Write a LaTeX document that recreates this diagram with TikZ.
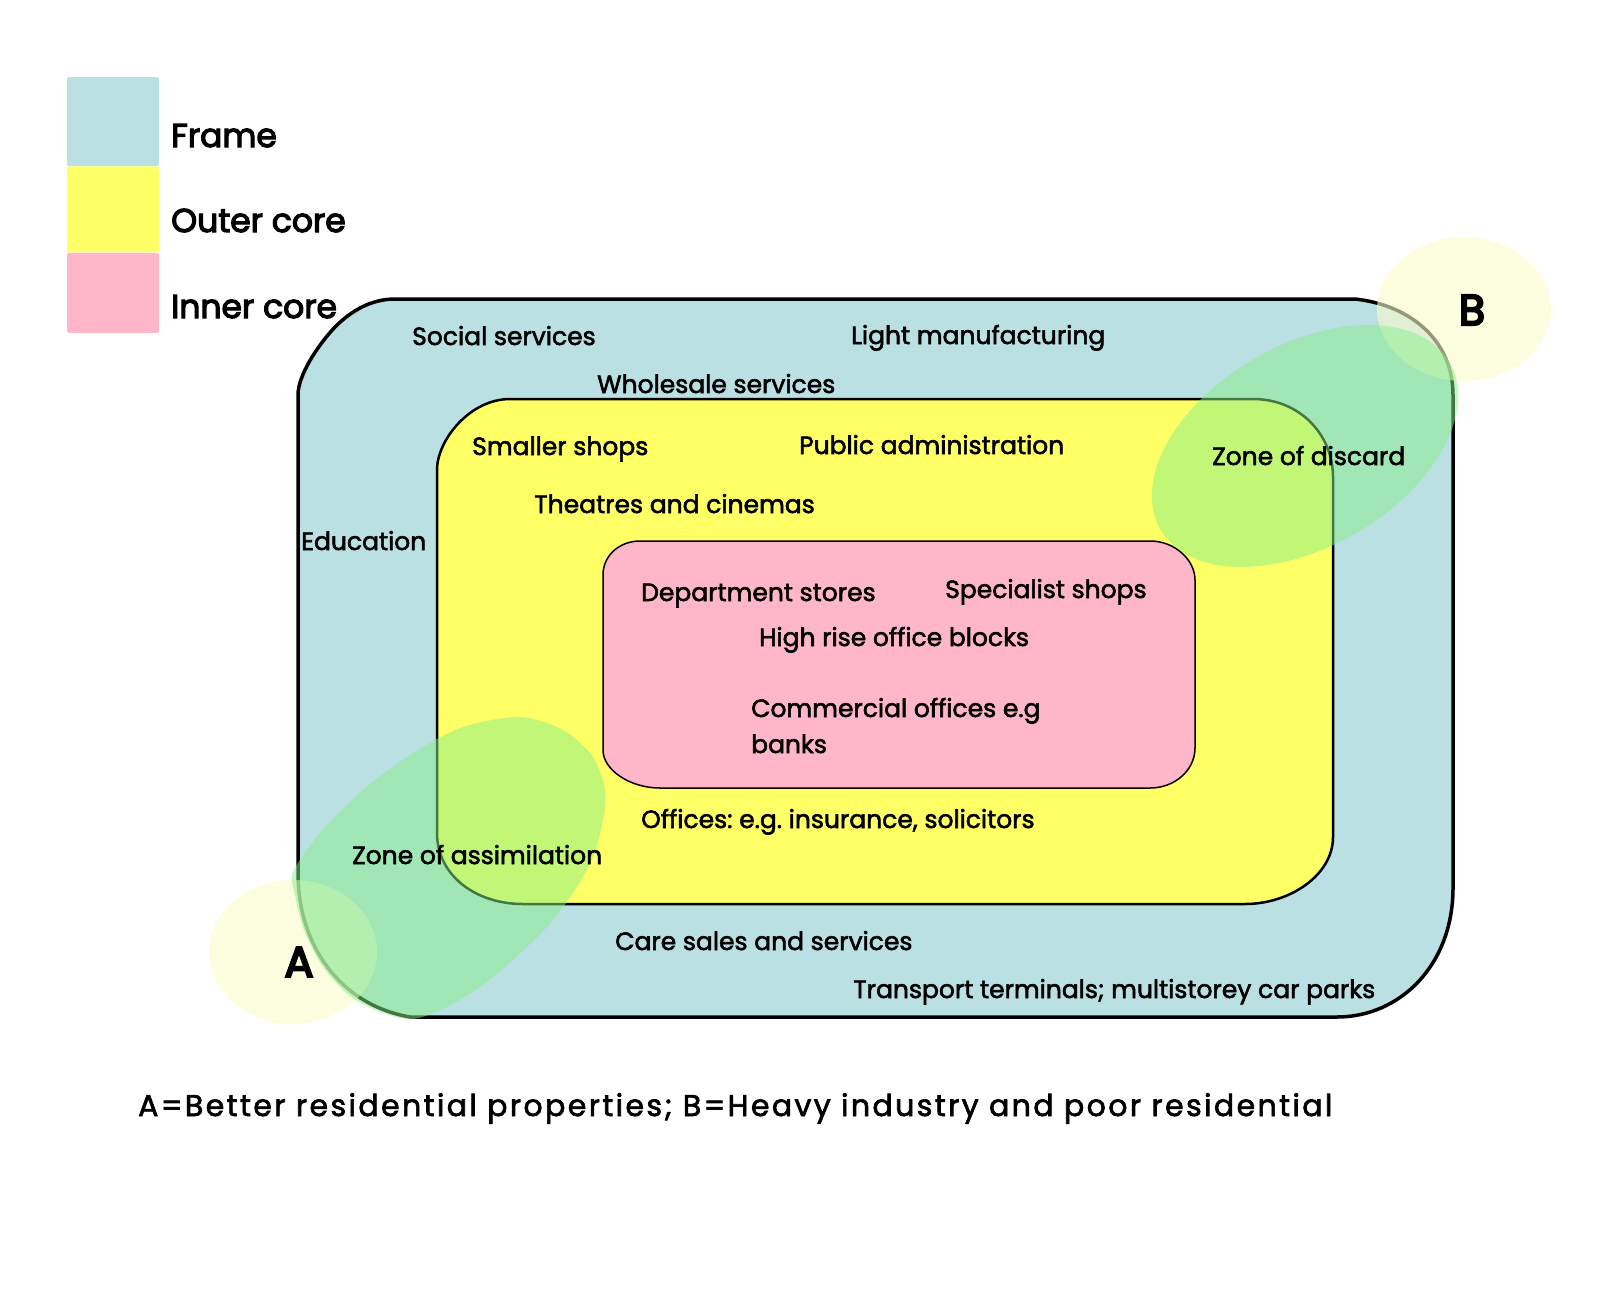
\documentclass[tikz,border=0pt]{standalone}
\usepackage{fontspec}
\setmainfont{Poppins}[FakeBold=2.2]
\newfontfamily\keyfont{Poppins}[FakeBold=3.5]
\newfontfamily\letterfont{Poppins}[FakeBold=5]
\usepackage{tikz}
\usetikzlibrary{positioning}

\definecolor{FrameBlue}{RGB}{186,224,227}
\definecolor{OuterYellow}{RGB}{255,255,102}
\definecolor{InnerPink}{RGB}{254,182,200}
\definecolor{ZoneGreen}{RGB}{135,239,137}
\definecolor{SpotYellow}{RGB}{252,252,203}

\begin{document}
\frenchspacing
\begin{tikzpicture}[x=1pt, y=-1pt,
	TextStyle/.style = {anchor=base west, inner sep=0pt, font=\fontsize{25}{30}\selectfont},
	KeyStyle/.style = {anchor=base west, inner sep=0pt, font=\keyfont\fontsize{33}{40}\selectfont},
	LetterStyle/.style = {inner sep=0pt, font=\letterfont\fontsize{43}{50}\selectfont},
	KeyBox/.style = {rounded corners=2pt, minimum width=92pt, inner sep=0pt},
	ZoneStyle/.style = {fill=ZoneGreen, fill opacity=0.5},
	SpotStyle/.style = {fill=SpotYellow, fill opacity=0.6}]
			\useasboundingbox (0,0) rectangle (1600,1304);

			\node[KeyBox, fill=FrameBlue, minimum height=89pt] (boxframe) at (113,121.5) {};
			\node[KeyBox, fill=OuterYellow, minimum height=86pt, below=0pt of boxframe] (boxouter) {};
			\node[KeyBox, fill=InnerPink, minimum height=80pt, below=0pt of boxouter] (boxinner) {};
			\node[KeyStyle] (keyframe) at (171,147) {Frame};
			\node[KeyStyle] (keyouter) at (171,232) {Outer core};
			\node[KeyStyle] (keyinner) at (171,318) {Inner core};

			\filldraw[fill=FrameBlue, draw=black, line width=3.5pt]
				(298,395) .. controls (298,375) and (318,345) .. (335,327)
				.. controls (352,310) and (372,299) .. (395,299)
				-- (1355,299) .. controls (1410,305) and (1453,340) .. (1453,395)
				-- (1453,888) .. controls (1453,965) and (1400,1017) .. (1337,1017)
				-- (410,1017) .. controls (340,1005) and (298,945) .. (298,873)
				-- cycle;
			\filldraw[fill=OuterYellow, draw=black, line width=2.5pt]
				(437,470) .. controls (437,440) and (470,399) .. (510,399)
				-- (1253,399) .. controls (1300,399) and (1333,435) .. (1333,477)
				-- (1333,837) .. controls (1333,875) and (1290,904) .. (1245,904)
				-- (523,904) .. controls (475,904) and (437,875) .. (437,833)
				-- cycle;
			\filldraw[fill=InnerPink, draw=black, line width=1.5pt]
				(603,575) .. controls (603,555) and (620,541) .. (640,541)
				-- (1150,541) .. controls (1175,541) and (1195,560) .. (1195,580)
				-- (1195,748) .. controls (1195,770) and (1175,788) .. (1150,788)
				-- (660,788) .. controls (630,788) and (603,770) .. (603,750)
				-- cycle;

			\fill[SpotStyle] (1464,309) ellipse [x radius=87, y radius=72];
			\fill[SpotStyle] (293,952) ellipse [x radius=84, y radius=72];
			\fill[ZoneStyle, rotate around={30:(1305,446)}] (1305,446) ellipse [x radius=167, y radius=101];
			\fill[ZoneStyle] plot[smooth cycle] coordinates {(520,717) (563,730) (593,757) (605,790)
				(603,820) (593,857) (573,893) (547,927) (513,960) (480,987) (447,1007) (413,1019)
				(380,1012) (350,996) (323,967) (304,930) (295,895)
				(293,872) (320,833) (363,790) (413,753) (463,727)};

			\node[TextStyle] (social) at (412,345) {Social services};
			\node[TextStyle] (light) at (851,344) {Light manufacturing};
			\node[TextStyle] (wholesale) at (597,393) {Wholesale services};
			\node[TextStyle] (smaller) at (472,455) {Smaller shops};
			\node[TextStyle] (public) at (799,454) {Public administration};
			\node[TextStyle] (discard) at (1212,465) {Zone of discard};
			\node[TextStyle] (theatres) at (534,513) {Theatres and cinemas};
			\node[TextStyle] (education) at (301,550) {Education};
			\node[TextStyle] (department) at (641,601) {Department stores};
			\node[TextStyle] (specialist) at (945,598) {Specialist shops};
			\node[TextStyle] (highrise) at (759,646) {High rise office blocks};
			\node[TextStyle] (commercial) at (751,717) {Commercial offices e.g};
			\node[TextStyle] (banks) at (751,753) {banks};
			\node[TextStyle] (offices) at (641,828) {Offices: e.g. insurance, solicitors};
			\node[TextStyle] (assimilation) at (352,864) {Zone of assimilation};
			\node[TextStyle] (care) at (615,950) {Care sales and services};
			\node[TextStyle] (transport) at (853,998) {Transport terminals; multistorey car parks};
			\node[LetterStyle] (letterA) at (299,962) {A};
			\node[LetterStyle] (letterB) at (1472,310) {B};
			\node[TextStyle, font=\fontsize{30}{36}\selectfont\addfontfeatures{LetterSpace=8.0}] (caption) at (138,1116) {A=Better residential properties; B=Heavy industry and poor residential};
		\end{tikzpicture}
\end{document}
